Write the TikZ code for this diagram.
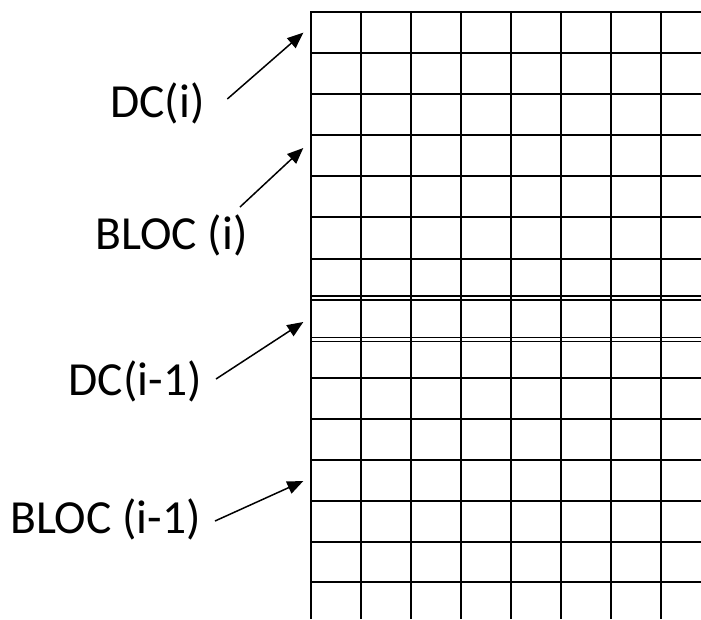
\documentclass[tikz,border=0pt]{standalone}
\usepackage{fontspec}
\setmainfont{Carlito}
\usetikzlibrary{arrows.meta}
\begin{document}
\begin{tikzpicture}[x=1pt,y=-1pt,
  gridline/.style={line width=1.8pt,black},
  dblline/.style={line width=1.6pt,black},
  pointer/.style={line width=1.5pt,-{Triangle[length=16pt,width=13pt]}},
  lbl/.style={anchor=base west,inner sep=0pt,font=\fontsize{47.5}{54}\selectfont}]
\useasboundingbox (0,0) rectangle (701,619);
% grid verticals
\foreach \k in {0,...,7}{
  \draw[gridline] ({311+50*\k},12) -- ({311+50*\k},619);
}
% grid horizontals
\foreach \y in {12,53,94,135,176,217,259,378,419,460,501,542,582}{
  \draw[gridline] (310.1,\y) -- (701,\y);
}
\foreach \y in {296,300,337.5,341.5}{
  \draw[dblline] (310.1,\y) -- (701,\y);
}
% labels
\node[lbl] (dci) at (110,117.3) {DC(i)};
\node[lbl] (bloci) at (95.5,249.3) {BLOC (i)};
\node[lbl] (dcim) at (68.5,395) {DC(i-1)};
\node[lbl] (blocim) at (10,533.3) {BLOC (i-1)};
% arrow ends
\coordinate (s1) at (227.3,99);
\coordinate (t1) at (303.3,32.7);
\coordinate (s2) at (240,207);
\coordinate (t2) at (303.3,148);
\coordinate (s3) at (216,379);
\coordinate (t3) at (303.3,322);
\coordinate (s4) at (215,521);
\coordinate (t4) at (303.3,481);
\draw[pointer] (s1) -- (t1);
\draw[pointer] (s2) -- (t2);
\draw[pointer] (s3) -- (t3);
\draw[pointer] (s4) -- (t4);
\end{tikzpicture}
\end{document}
